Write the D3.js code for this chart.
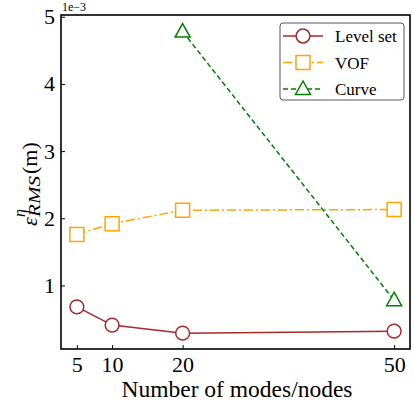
<!DOCTYPE html>
<html>
<head>
<meta charset="utf-8">
<script src="https://cdn.jsdelivr.net/npm/d3@7"></script>
<style>
body { margin: 0; background: #fff; }
text { font-family: "Liberation Serif", "DejaVu Serif", serif; }
</style>
</head>
<body>
<svg id="chart" width="414" height="403"></svg>
<script>
// data (values in units of 1e-3 m)
const nodes = [5, 10, 20, 50];
const levelSet = [0.68, 0.41, 0.29, 0.32];
const vof = [1.76, 1.92, 2.12, 2.13];
const curveNodes = [20, 50];
const curve = [4.78, 0.78];
const xTicks = [5, 10, 20, 50];
const yTicks = [1, 2, 3, 4, 5];

let margin = {top: 15, right: 4, bottom: 54, left: 61},
    width = 414 - margin.left - margin.right,
    height = 403 - margin.top - margin.bottom;

const x = d3.scaleLinear().domain([2.75, 52.25]).range([0, width]);
const y = d3.scaleLinear().domain([0.054, 5.026]).range([height, 0]);

let svg = d3.select("#chart")
    .append("g")
    .attr("transform", "translate(" + margin.left + "," + margin.top + ")");

// axes with inward ticks
svg.append("g")
    .attr("transform", "translate(0," + height + ")")
    .call(d3.axisBottom(x).tickValues(xTicks).tickFormat(d3.format("d"))
        .tickSizeInner(-4).tickSizeOuter(0).tickPadding(7))
    .call(g => g.select(".domain").remove())
    .call(g => g.selectAll("text").attr("font-size", 22).attr("fill", "#000"));

svg.append("g")
    .call(d3.axisLeft(y).tickValues(yTicks).tickFormat(d3.format("d"))
        .tickSizeInner(-4).tickSizeOuter(0).tickPadding(6))
    .call(g => g.select(".domain").remove())
    .call(g => g.selectAll("text").attr("font-size", 22).attr("fill", "#000"));

// frame
svg.append("rect")
    .attr("width", width).attr("height", height)
    .attr("fill", "none").attr("stroke", "#000").attr("stroke-width", 1.6);

// offset text
svg.append("text").attr("x", 1).attr("y", -4)
    .attr("font-size", 12).text("1e\u22123");

// axis labels
d3.select("#chart").append("text")
    .attr("x", 237).attr("y", 397)
    .attr("text-anchor", "middle").attr("font-size", 23.5)
    .text("Number of modes/nodes");

let yl = d3.select("#chart").append("g")
    .attr("transform", "translate(37,226) rotate(-90)");
yl.append("text").attr("x", 0).attr("y", 0)
    .attr("font-style", "italic").attr("font-size", 22).text("\u03b5");
yl.append("text").attr("x", 9).attr("y", 3)
    .attr("font-style", "italic").attr("font-size", 16)
    .attr("textLength", 41).attr("lengthAdjust", "spacingAndGlyphs").text("RMS");
yl.append("text").attr("x", 9).attr("y", -12)
    .attr("font-style", "italic").attr("font-size", 16).text("\u03b7");
yl.append("text").attr("x", 52).attr("y", 0)
    .attr("font-size", 22).text("(m)");

const series = [
    {name: "Level set", xs: nodes, ys: levelSet, color: "#a52a2a", dash: null, marker: "circle"},
    {name: "VOF", xs: nodes, ys: vof, color: "#ffa500", dash: "9,3,2,3", marker: "square"},
    {name: "Curve", xs: curveNodes, ys: curve, color: "#008000", dash: "5,3", marker: "triangle"}
];

const markerPath = {
    circle: d3.symbol().type(d3.symbolCircle).size(150)(),
    square: "M-7,-7H7V7H-7Z",
    triangle: "M0,-8L7.5,5.5H-7.5Z"
};

series.forEach(function (s) {
    let pts = s.xs.map((d, i) => [d, s.ys[i]]);
    svg.append("path")
        .datum(pts)
        .attr("fill", "none")
        .attr("stroke", s.color)
        .attr("stroke-width", 1.5)
        .attr("stroke-dasharray", s.dash)
        .attr("d", d3.line().x(d => x(d[0])).y(d => y(d[1])));
    svg.selectAll(".m-" + s.marker)
        .data(pts)
        .enter().append("path")
        .attr("transform", d => "translate(" + x(d[0]) + "," + y(d[1]) + ")")
        .attr("d", markerPath[s.marker])
        .attr("fill", "#fff")
        .attr("stroke", s.color)
        .attr("stroke-width", 1.5);
});

// legend
let lg = d3.select("#chart").append("g").attr("transform", "translate(280,23)");
lg.append("rect").attr("width", 124).attr("height", 77).attr("rx", 3)
    .attr("fill", "#fff").attr("stroke", "#555").attr("stroke-width", 1);
series.forEach(function (s, i) {
    let ly = 13 + i * 26.5;
    lg.append("line").attr("x1", 3).attr("x2", 43).attr("y1", ly).attr("y2", ly)
        .attr("stroke", s.color).attr("stroke-width", 1.5).attr("stroke-dasharray", s.dash);
    lg.append("path").attr("transform", "translate(23," + ly + ")")
        .attr("d", markerPath[s.marker]).attr("fill", "#fff")
        .attr("stroke", s.color).attr("stroke-width", 1.5);
    lg.append("text").attr("x", 55).attr("y", ly + 6).attr("font-size", 17).text(s.name);
});
</script>
</body>
</html>
